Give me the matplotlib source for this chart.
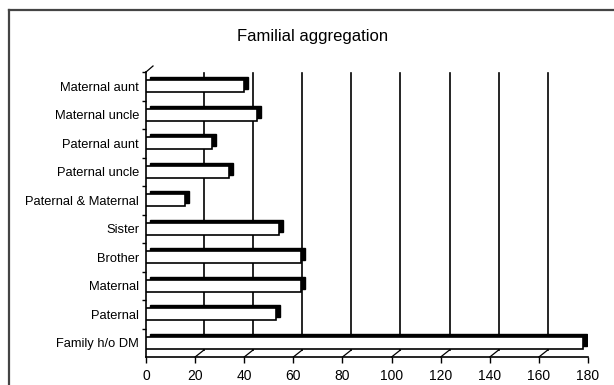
import matplotlib
matplotlib.use("Agg")
import matplotlib.pyplot as plt
from matplotlib.transforms import ScaledTranslation
from matplotlib.lines import Line2D

plt.rcParams['font.family'] = ['Liberation Sans', 'DejaVu Sans']

# data, bottom to top as drawn
categories = ['Family h/o DM', 'Paternal', 'Maternal', 'Brother', 'Sister',
              'Paternal & Maternal', 'Paternal uncle', 'Paternal aunt',
              'Maternal uncle', 'Maternal aunt']
counts = [178, 53, 63, 63, 54, 16, 34, 27, 45, 40]
x_ticks = [0, 20, 40, 60, 80, 100, 120, 140, 160, 180]

fig = plt.figure(figsize=(6.14, 3.85), dpi=100)
W, H = 614, 385
ax = fig.add_axes([146 / W, 1 - 357 / H, 442 / W, 285 / H])

y = list(range(len(categories)))

# black "depth" bars behind, shifted up and right a few pixels
shift = ScaledTranslation(4 / 100, 3 / 100, fig.dpi_scale_trans)
ax.barh(y, counts, height=0.42, color='black', edgecolor='black',
        transform=ax.transData + shift, zorder=3)
ax.barh(y, counts, height=0.42, color='white', edgecolor='black',
        linewidth=1.2, zorder=4)

ax.set_xlim(0, 180)
ax.set_ylim(-0.5, len(categories) - 0.5)

# back wall gridlines (offset for the 3d look)
depth_x = 3.6
depth_y = 7 / 285
xt = ax.get_xaxis_transform()
for t in x_ticks[1:-1]:
    ax.plot([t + depth_x, t + depth_x], [depth_y, 0.995], color='black',
            lw=1.2, transform=xt, zorder=1)
    ax.plot([t, t + depth_x], [0, depth_y], color='black', lw=0.9,
            transform=xt, zorder=1, clip_on=False)
ax.plot([0, 7 / 442], [1, 1 + 6 / 285], color='black', lw=0.9,
        transform=ax.transAxes, clip_on=False)

ax.spines['top'].set_visible(False)
ax.spines['right'].set_visible(False)
ax.spines['left'].set_linewidth(1.2)
ax.spines['bottom'].set_linewidth(1.2)

ax.set_xticks(x_ticks)
ax.set_xticklabels([str(t) for t in x_ticks], fontsize=10)
ax.tick_params(axis='x', direction='out', length=4, width=1.0, pad=5)

ax.set_yticks(y)
ax.set_yticklabels(categories, fontsize=9.3)
ax.tick_params(axis='y', which='major', length=0, pad=5)
ax.set_yticks([i - 0.5 for i in y[1:]] + [len(categories) - 0.5], minor=True)
ax.tick_params(axis='y', which='minor', direction='out', length=3, width=1.0)

fig.text(313 / W, 1 - 37 / H, 'Familial aggregation', ha='center',
         va='center', fontsize=12)

# chart area border (cut off at right/bottom)
fig.add_artist(Line2D([9 / W, 9 / W], [0, 1 - 10 / H], color='#444444',
                      lw=1.6, transform=fig.transFigure))
fig.add_artist(Line2D([9 / W, 1], [1 - 10 / H, 1 - 10 / H], color='#444444',
                      lw=1.6, transform=fig.transFigure))

fig.savefig('out.png', dpi=100)
